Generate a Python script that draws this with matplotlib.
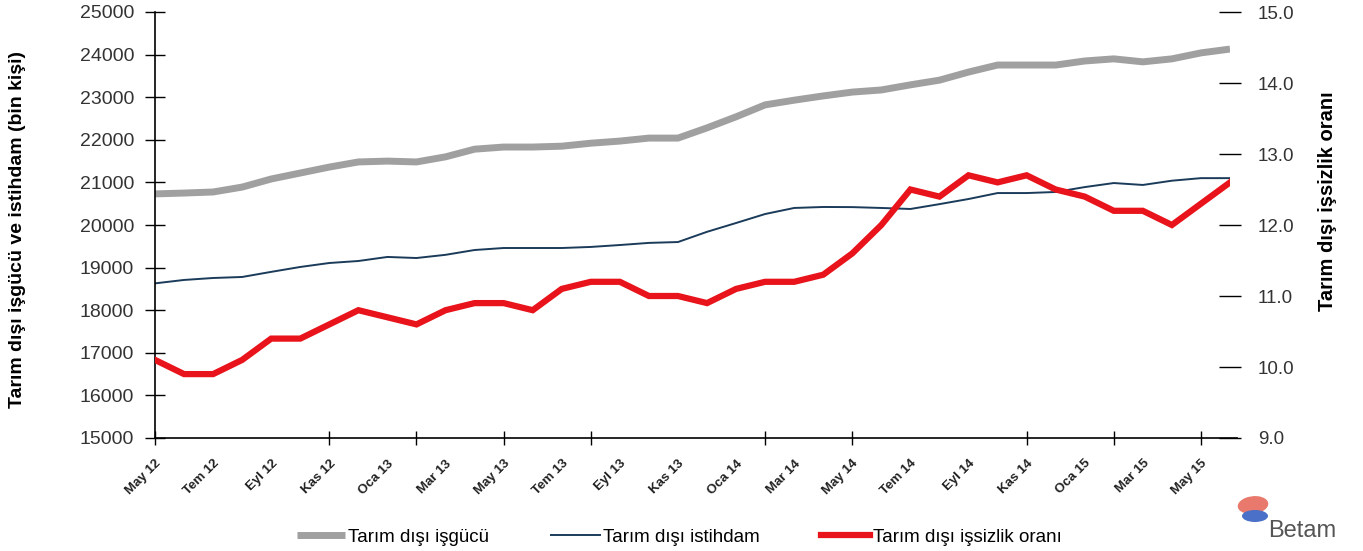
import matplotlib
matplotlib.use("Agg")
import matplotlib.pyplot as plt
from matplotlib.patches import Ellipse

plt.rcParams['font.family'] = ['Liberation Sans', 'DejaVu Sans']

# Months May 2012 .. Jun 2015
months = ["May 12", "Haz 12", "Tem 12", "Ağu 12", "Eyl 12", "Eki 12", "Kas 12", "Ara 12",
          "Oca 13", "Şub 13", "Mar 13", "Nis 13", "May 13", "Haz 13", "Tem 13", "Ağu 13",
          "Eyl 13", "Eki 13", "Kas 13", "Ara 13", "Oca 14", "Şub 14", "Mar 14", "Nis 14",
          "May 14", "Haz 14", "Tem 14", "Ağu 14", "Eyl 14", "Eki 14", "Kas 14", "Ara 14",
          "Oca 15", "Şub 15", "Mar 15", "Nis 15", "May 15", "Haz 15"]

isgucu = [20730, 20750, 20775, 20890, 21080, 21220, 21360, 21480, 21500, 21480,
          21600, 21780, 21830, 21830, 21850, 21920, 21970, 22040, 22040, 22280,
          22540, 22820, 22930, 23030, 23120, 23170, 23290, 23400, 23590, 23755,
          23755, 23755, 23850, 23900, 23830, 23900, 24040, 24130]

istihdam = [18630, 18710, 18756, 18780, 18900, 19015, 19108, 19155, 19250, 19225,
            19300, 19413, 19460, 19460, 19460, 19485, 19530, 19580, 19600, 19840,
            20047, 20258, 20400, 20423, 20420, 20400, 20376, 20490, 20610, 20750,
            20750, 20775, 20890, 20985, 20940, 21040, 21100, 21100]

issizlik = [10.1, 9.9, 9.9, 10.1, 10.4, 10.4, 10.6, 10.8, 10.7, 10.6,
            10.8, 10.9, 10.9, 10.8, 11.1, 11.2, 11.2, 11.0, 11.0, 10.9,
            11.1, 11.2, 11.2, 11.3, 11.6, 12.0, 12.5, 12.4, 12.7, 12.6,
            12.7, 12.5, 12.4, 12.2, 12.2, 12.0, 12.3, 12.6]

# month indices that carry a tick mark on the x axis
tick_mark_idx = [0, 6, 9, 12, 15, 21, 24, 30, 33, 36]

label_isgucu = "Tarım dışı işgücü"
label_istihdam = "Tarım dışı istihdam"
label_issizlik = "Tarım dışı işsizlik oranı"

W, H = 1363, 551
fig = plt.figure(figsize=(W / 100, H / 100), dpi=100)
ax = fig.add_axes([155 / W, 1 - 438 / H, (1230 - 155) / W, (438 - 12) / H])
ax2 = ax.twinx()

x = list(range(len(months)))
l1, = ax.plot(x, isgucu, color="#a0a0a0", lw=5.0, solid_capstyle="butt", label=label_isgucu)
l2, = ax.plot(x, istihdam, color="#1b3b5a", lw=1.4, label=label_istihdam)
l3, = ax2.plot(x, issizlik, color="#e8131b", lw=4.5, solid_joinstyle="miter", label=label_issizlik)

ax.set_xlim(0, len(months) - 1)
ax.set_ylim(15000, 25000)
ax.set_yticks(range(15000, 25001, 1000))
ax2.set_ylim(9.0, 15.0)
ax2.set_yticks([9, 10, 11, 12, 13, 14, 15])
ax2.set_yticklabels([f"{v:.1f}" for v in [9, 10, 11, 12, 13, 14, 15]])

# x labels every 2 months
ax.xaxis.remove_overlapping_locs = False
ax.set_xticks(x[::2])
ax.set_xticklabels([m for m in months[::2]], rotation=45, ha="right", rotation_mode="anchor",
                   fontsize=9.5, fontweight="bold", color="#222222")
ax.tick_params(axis="x", which="major", length=0, pad=14)
ax.set_xticks(tick_mark_idx, minor=True)
ax.tick_params(axis="x", which="minor", direction="inout", length=10, width=1)

ax.tick_params(axis="y", direction="inout", length=14, width=1, labelsize=14, labelcolor="#333333", pad=8)
ax2.tick_params(axis="y", direction="inout", length=16, width=1, labelsize=13.5, labelcolor="#333333", pad=12)

for s in ["top", "right"]:
    ax.spines[s].set_visible(False)
for s in ["top", "right", "left", "bottom"]:
    ax2.spines[s].set_visible(False)
ax.spines["left"].set_linewidth(1.2)
ax.spines["bottom"].set_linewidth(1.2)
ax.spines["bottom"].set_bounds(0, len(months) - 0.75)

ax.set_ylabel("Tarım dışı işgücü ve istihdam (bin kişi)", fontsize=14, fontweight="bold")
ax.yaxis.set_label_coords(-0.12, 0.49)
ax2.set_ylabel("Tarım dışı işsizlik oranı", fontsize=14.5, fontweight="bold", rotation=90)
ax2.yaxis.set_label_coords(1.082, 0.555)

fig.legend(handles=[l1, l2, l3], loc="center", bbox_to_anchor=(679 / W, 1 - 537 / H), ncol=3,
           frameon=False, fontsize=13.5, handlelength=2.6, columnspacing=3.3, handletextpad=0.15)

# Betam logo approximation
fig.patches.append(Ellipse((1253 / W, 1 - 505 / H), 30 / W, 18 / H, angle=-10, transform=fig.transFigure,
                           facecolor="#e8796c", edgecolor="none"))
fig.patches.append(Ellipse((1255 / W, 1 - 516 / H), 26 / W, 12 / H, transform=fig.transFigure,
                           facecolor="#4a70c8", edgecolor="none"))
fig.text(1268 / W, 1 - 537 / H, "Betam", fontsize=17, color="#555555", va="baseline", ha="left")

fig.savefig("out.png", dpi=100)
